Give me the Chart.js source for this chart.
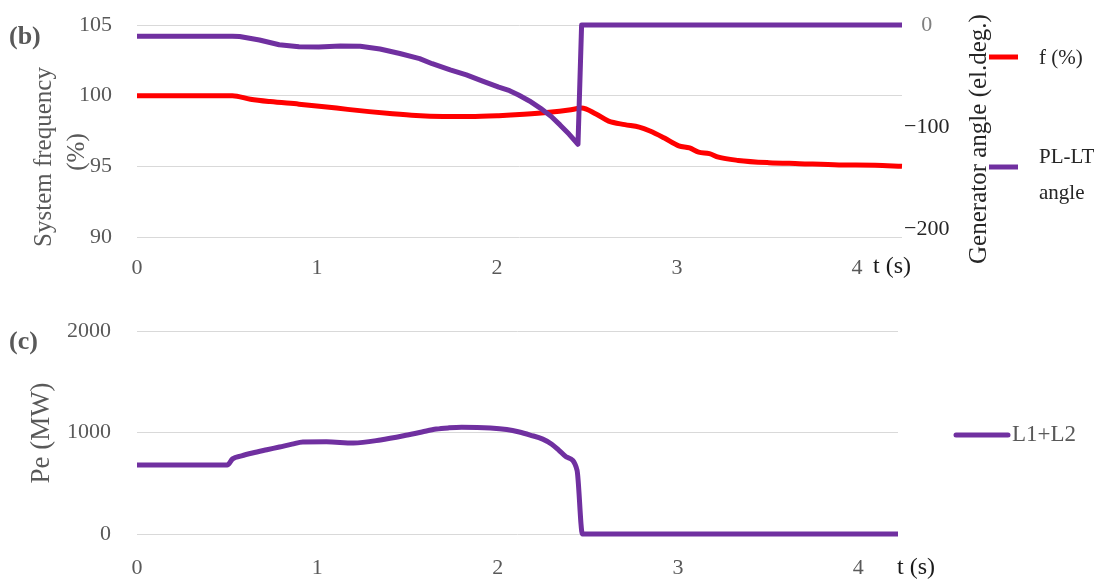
<!DOCTYPE html>
<html>
<head>
<meta charset="utf-8">
<script src="https://cdn.jsdelivr.net/npm/chart.js@4.4.1/dist/chart.umd.min.js"></script>
<style>
  html, body { margin: 0; padding: 0; background: #fff; overflow: hidden; }
  #wrap { position: relative; width: 1099px; height: 586px; }
  canvas { position: absolute; left: 0; }
  #top { top: 0; }
  #bot { top: 290px; }
</style>
</head>
<body>
<div id="wrap">
  <canvas id="top" width="1099" height="290"></canvas>
  <canvas id="bot" width="1099" height="296"></canvas>
</div>
<script>
// ---- data ----
const timeTicks = [0, 1, 2, 3, 4];

// (b) system frequency, % of nominal
const freqTime = [0, 0.53, 0.63, 0.74, 0.9, 1.04, 1.17, 1.29, 1.42, 1.55, 1.7, 1.85, 2.01, 2.15, 2.29, 2.4, 2.47,
                  2.55, 2.62, 2.71, 2.79, 2.85, 2.93, 3.01, 3.07, 3.12, 3.18, 3.23, 3.34, 3.51, 3.68, 3.9, 4.1, 4.25];
const freqPct  = [100, 100, 99.75, 99.58, 99.4, 99.22, 99.03, 98.87, 98.72, 98.6, 98.53, 98.52, 98.58, 98.68, 98.82, 98.98, 99.12,
                  98.7, 98.2, 97.95, 97.78, 97.5, 97.0, 96.45, 96.3, 96.0, 95.9, 95.65, 95.42, 95.26, 95.19, 95.1, 95.08, 95.0];
const freqTicks = [90, 95, 100, 105];

// (b) PL-LT generator angle, el.deg.
const angleTime = [0, 0.53, 0.57, 0.68, 0.79, 0.9, 1.01, 1.13, 1.24, 1.35, 1.46, 1.57, 1.64, 1.74, 1.83, 1.92,
                   2.01, 2.07, 2.12, 2.18, 2.24, 2.3, 2.35, 2.4, 2.45, 2.47, 4.25];
const angleDeg  = [-11, -11, -11.3, -14.7, -19.4, -21.4, -21.6, -20.6, -20.8, -23.6, -28, -33, -38, -44, -49, -55,
                   -61, -64.5, -68.7, -74.5, -81.5, -89.5, -98, -107, -117, 0, 0];
const angleTicks = [0, -100, -200];

// (c) electrical power L1+L2, MW
const powerTime = [0, 0.5, 0.53, 0.58, 0.64, 0.72, 0.79, 0.86, 0.92, 1.05, 1.2, 1.35, 1.5, 1.58, 1.66, 1.73, 1.8, 1.96,
                   2.05, 2.12, 2.18, 2.25, 2.3, 2.34, 2.38, 2.44, 2.47, 4.22];
const powerMW   = [680, 680, 740, 770, 798, 830, 857, 885, 906, 908, 897, 926, 975, 1005, 1034, 1046, 1052, 1045,
                   1030, 1005, 975, 935, 885, 825, 760, 630, 0, 0];
const powerTicks = [0, 1000, 2000];

// ---- helpers ----
const pts = (xs, ys) => xs.map((x, i) => ({ x: x, y: ys[i] }));
const SERIF = "'Liberation Serif', 'DejaVu Serif', serif";
const GREY = '#595959';
const GRID = '#d9d9d9';
const RED = '#ff0000';
const PURPLE = '#7030a0';

function fixedTicks(values) {
  return function (scale) { scale.ticks = values.map(v => ({ value: v })); };
}
function minus(v) { return v < 0 ? '\u2212' + Math.abs(v) : String(v); }
// fixed box size, no extra label overhang padding
function box(w, h) {
  return function (s) {
    if (w !== null) s.width = w;
    if (h !== null) s.height = h;
    s.paddingTop = 0; s.paddingBottom = 0; s.paddingLeft = 0; s.paddingRight = 0;
  };
}

// free text (panel letters, axis titles) drawn on top of the chart
function textPlugin(items) {
  return {
    id: 'freeText',
    afterDraw(chart) {
      const ctx = chart.ctx;
      items.forEach(it => {
        ctx.save();
        ctx.font = it.font;
        ctx.fillStyle = it.color;
        ctx.textAlign = it.align || 'center';
        ctx.textBaseline = 'middle';
        ctx.translate(it.x, it.y);
        if (it.rotate) ctx.rotate(it.rotate);
        ctx.fillText(it.text, 0, 0);
        ctx.restore();
      });
    }
  };
}

// legend entries: short line in the dataset colour plus its label lines
function legendPlugin(entries) {
  return {
    id: 'sideLegend',
    afterDraw(chart) {
      const ctx = chart.ctx;
      entries.forEach(e => {
        const ds = chart.data.datasets[e.index];
        ctx.save();
        ctx.strokeStyle = ds.borderColor;
        ctx.lineWidth = e.lineWidth;
        ctx.lineCap = e.cap || 'butt';
        ctx.beginPath();
        ctx.moveTo(e.x0, e.y);
        ctx.lineTo(e.x1, e.y);
        ctx.stroke();
        ctx.font = e.font;
        ctx.fillStyle = e.color;
        ctx.textAlign = 'left';
        ctx.textBaseline = 'middle';
        const lines = ds.label.split('\n');
        lines.forEach((ln, k) => ctx.fillText(ln, e.tx, e.ty + k * e.lh));
        ctx.restore();
      });
    }
  };
}

const tickFont = { family: SERIF, size: 22 };
const TITLE = '25px ' + SERIF;
const lineStyle = {
  borderWidth: 5,
  pointRadius: 0,
  borderJoinStyle: 'round',
  clip: false
};
// smooth curve that never bends back in time
const smooth = { cubicInterpolationMode: 'monotone' };
// straight segments between samples (keeps the sharp dip before the jump)
const straight = { tension: 0 };

// ---- (b) frequency and generator angle ----
new Chart(document.getElementById('top'), {
  type: 'line',
  data: {
    datasets: [
      Object.assign({
        label: 'f (%)',
        data: pts(freqTime, freqPct),
        yAxisID: 'yF',
        borderColor: RED,
        order: 1
      }, lineStyle, smooth),
      Object.assign({
        label: 'PL-LT\nangle',
        data: pts(angleTime, angleDeg),
        yAxisID: 'yA',
        borderColor: PURPLE,
        order: 0
      }, lineStyle, straight)
    ]
  },
  options: {
    responsive: false,
    animation: false,
    events: [],
    layout: { autoPadding: false, padding: { top: 25, left: 0, right: 0, bottom: 0 } },
    plugins: { legend: { display: false }, tooltip: { enabled: false } },
    scales: {
      x: {
        type: 'linear',
        min: 0,
        max: 4.25,
        afterBuildTicks: fixedTicks(timeTicks),
        afterFit: box(null, 53),
        grid: { display: false, drawTicks: false },
        border: { display: false },
        ticks: { font: tickFont, color: GREY, padding: 18, maxRotation: 0 }
      },
      yF: {
        position: 'left',
        min: 90,
        max: 105,
        afterBuildTicks: fixedTicks(freqTicks),
        afterFit: box(137, null),
        grid: { color: GRID, lineWidth: 1, drawTicks: false },
        border: { display: false },
        ticks: { font: tickFont, color: GREY, padding: 25 }
      },
      yA: {
        position: 'right',
        min: -208,
        max: 0,
        afterBuildTicks: fixedTicks(angleTicks),
        afterFit: box(197, null),
        grid: { display: false, drawTicks: false },
        border: { display: false },
        ticks: {
          font: tickFont,
          color: ctx => (ctx.tick && ctx.tick.value === 0 ? '#7f7f7f' : '#262626'),
          padding: 2,
          crossAlign: 'center',
          callback: v => minus(v)
        }
      }
    }
  },
  plugins: [
    textPlugin([
      { text: '(b)', x: 9, y: 37, align: 'left', font: 'bold 26px ' + SERIF, color: GREY },
      { text: 'System frequency', x: 44, y: 157, rotate: -Math.PI / 2, font: TITLE, color: GREY },
      { text: '(%)', x: 77, y: 152, rotate: -Math.PI / 2, font: TITLE, color: GREY },
      { text: 'Generator angle (el.deg.)', x: 979, y: 139, rotate: -Math.PI / 2, font: TITLE, color: '#262626' },
      { text: 't (s)', x: 892, y: 267, font: '24px ' + SERIF, color: '#1a1a1a' }
    ]),
    legendPlugin([
      { index: 0, x0: 989, x1: 1018, y: 57, lineWidth: 5, tx: 1039, ty: 58, lh: 36, font: '21px ' + SERIF, color: '#262626' },
      { index: 1, x0: 989, x1: 1018, y: 167, lineWidth: 5, tx: 1039, ty: 157, lh: 36, font: '21px ' + SERIF, color: '#262626' }
    ])
  ]
});

// ---- (c) electrical power ----
new Chart(document.getElementById('bot'), {
  type: 'line',
  data: {
    datasets: [
      Object.assign({
        label: 'L1+L2',
        data: pts(powerTime, powerMW),
        borderColor: PURPLE
      }, lineStyle, smooth)
    ]
  },
  options: {
    responsive: false,
    animation: false,
    events: [],
    layout: { autoPadding: false, padding: { top: 41, left: 0, right: 201, bottom: 0 } },
    plugins: { legend: { display: false }, tooltip: { enabled: false } },
    scales: {
      x: {
        type: 'linear',
        min: 0,
        max: 4.22,
        afterBuildTicks: fixedTicks(timeTicks),
        afterFit: box(null, 52),
        grid: { display: false, drawTicks: false },
        border: { display: false },
        ticks: { font: tickFont, color: GREY, padding: 21, maxRotation: 0 }
      },
      y: {
        position: 'left',
        min: 0,
        max: 2000,
        afterBuildTicks: fixedTicks(powerTicks),
        afterFit: box(137, null),
        grid: { color: GRID, lineWidth: 1, drawTicks: false },
        border: { display: false },
        ticks: { font: tickFont, color: GREY, padding: 26, callback: v => String(v) }
      }
    }
  },
  plugins: [
    textPlugin([
      { text: '(c)', x: 9, y: 52, align: 'left', font: 'bold 26px ' + SERIF, color: GREY },
      { text: 'Pe (MW)', x: 42, y: 143, rotate: -Math.PI / 2, font: '27px ' + SERIF, color: GREY },
      { text: 't (s)', x: 916, y: 278, font: '24px ' + SERIF, color: '#1a1a1a' }
    ]),
    legendPlugin([
      { index: 0, x0: 956, x1: 1008, y: 145, lineWidth: 5, cap: 'round', tx: 1012, ty: 145, lh: 26, font: '23px ' + SERIF, color: GREY }
    ])
  ]
});
</script>
</body>
</html>
